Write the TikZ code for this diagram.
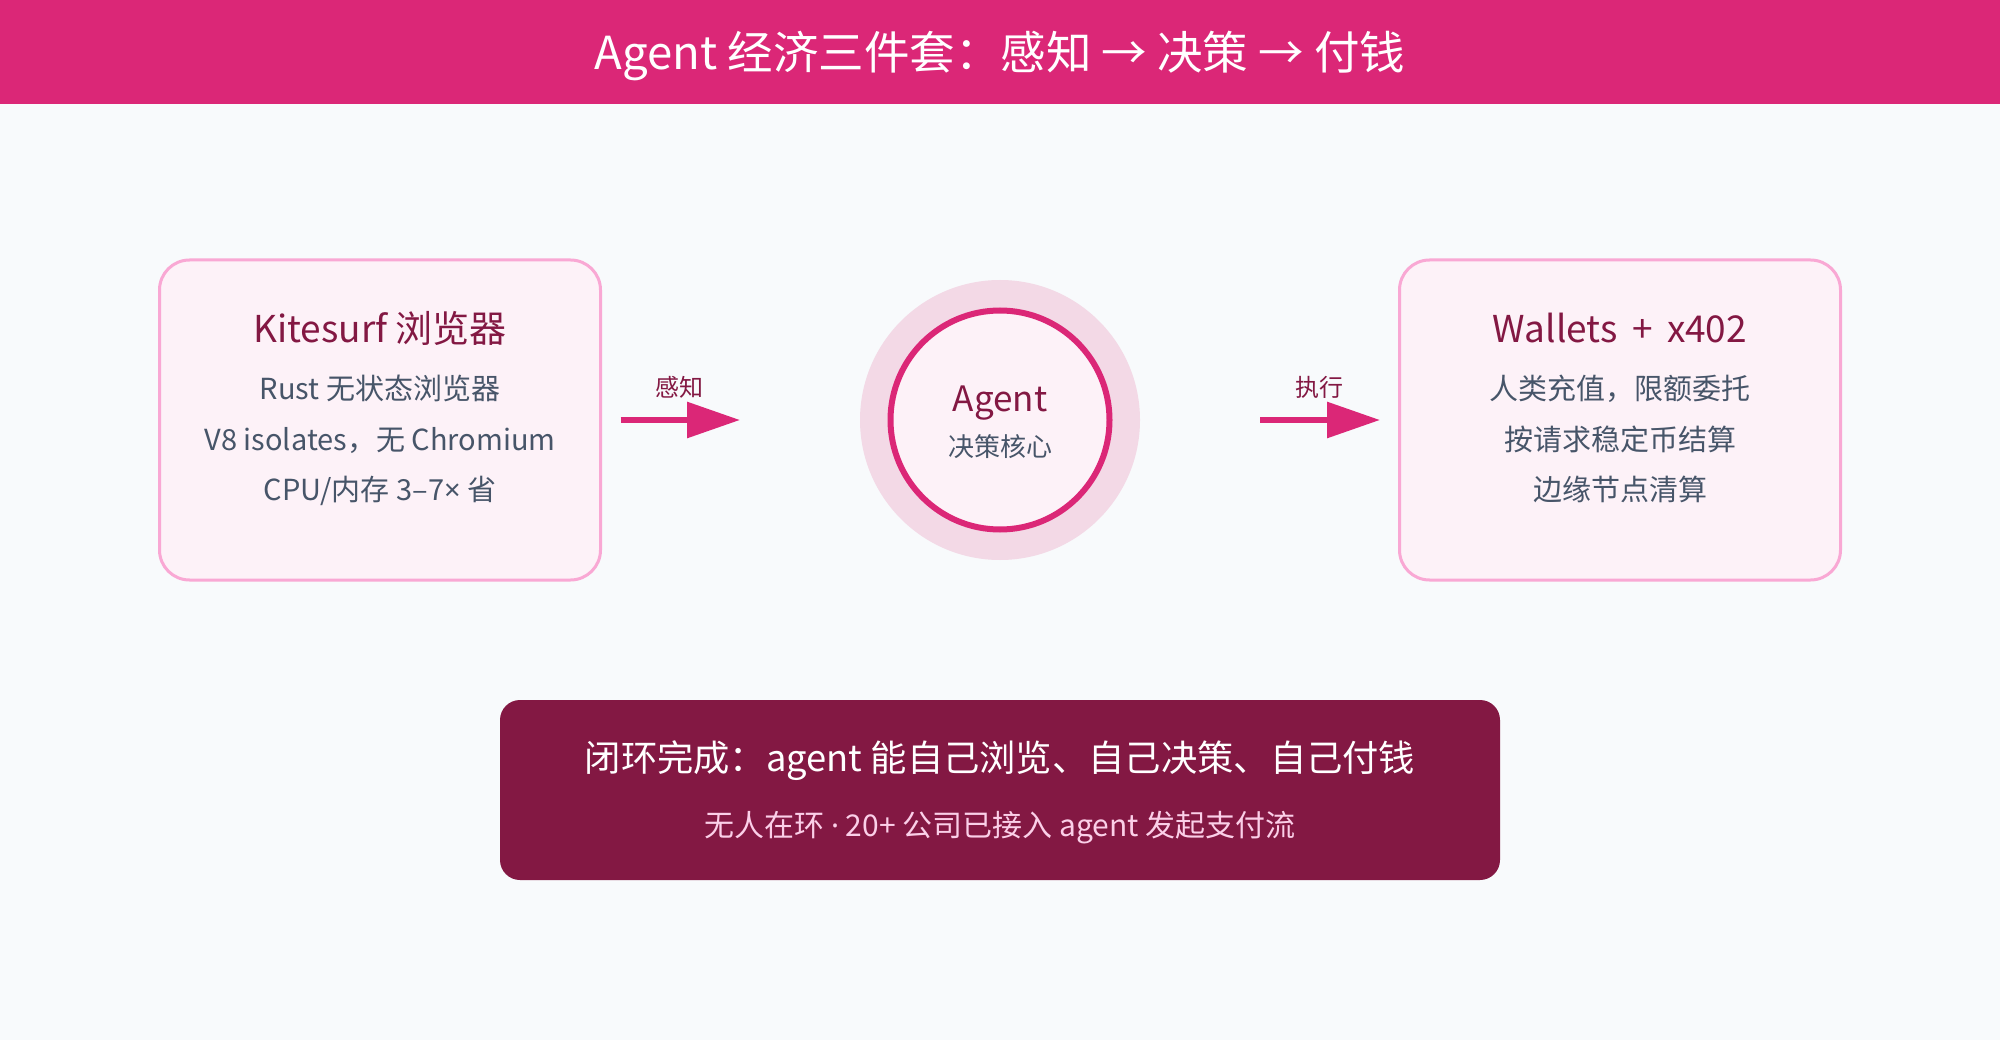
\documentclass[tikz,border=0pt]{standalone}
\usepackage{fontspec}
\setmainfont{Noto Sans CJK SC}
\newfontfamily\latfont{Noto Sans}
\usetikzlibrary{arrows.meta}
\definecolor{bg}{HTML}{F8FAFC}
\definecolor{hdr}{HTML}{DB2777}
\definecolor{deep}{HTML}{831843}
\definecolor{boxfill}{HTML}{FDF2F8}
\definecolor{boxline}{HTML}{F9A8D4}
\definecolor{bodytxt}{HTML}{475569}
\definecolor{halo}{HTML}{F3D9E6}
\definecolor{subpink}{HTML}{FBCFE8}
\begin{document}
\begin{tikzpicture}[x=1pt,y=-1pt,
  card/.style={draw=boxline, line width=3pt, fill=boxfill, rounded corners=30pt,
    minimum width=441pt, minimum height=320pt, outer sep=0pt, inner sep=0pt},
  cardtitle/.style={anchor=base, inner sep=0pt, text=deep, font=\fontsize{37}{44}\selectfont},
  cardtext/.style={anchor=base, inner sep=0pt, text=bodytxt, font=\fontsize{29}{34}\selectfont},
  flowlabel/.style={anchor=base, inner sep=0pt, text=deep, font=\fontsize{24}{28}\selectfont},
  flow/.style={draw=hdr, line width=6pt, -{Triangle[length=53pt,width=35pt]}},
]
\fill[bg] (0,0) rectangle (2000,1040);
\useasboundingbox (0,0) rectangle (2000,1040);
\fill[hdr] (0,0) rectangle (2000,104);
\node[text=white, inner sep=0pt, font=\fontsize{45.5}{52}\selectfont] (title) at (1000,56) {Agent 经济三件套：感知 → 决策 → 付钱};

% left card
\node[card] (kite) at (380,420) {};
\node[cardtitle] (kiteT) at (380,343) {Kitesurf 浏览器};
\node[cardtext] (kite1) at (380,400) {Rust 无状态浏览器};
\node[cardtext] (kite2) at (380,450) {V8 isolates，无 Chromium};
\node[cardtext] (kite3) at (380,500) {CPU/内存 3–7{\latfont ×} 省};

% right card
\node[card] (wal) at (1620,420) {};
\node[cardtitle] (walT) at (1620,343) {Wallets \,+\, x402};
\node[cardtext] (wal1) at (1620,400) {人类充值，限额委托};
\node[cardtext] (wal2) at (1620,450) {按请求稳定币结算};
\node[cardtext] (wal3) at (1620,500) {边缘节点清算};

% agent core
\node[circle, fill=halo, minimum size=280pt, inner sep=0pt, outer sep=0pt] (halo) at (1000,420) {};
\node[circle, draw=hdr, line width=6pt, fill=boxfill, minimum size=219pt, inner sep=0pt] (core) at (1000,420) {};
\node[anchor=base, inner sep=0pt, text=deep, font=\fontsize{35}{40}\selectfont] (coreT) at (1000,411) {Agent};
\node[anchor=base, inner sep=0pt, text=bodytxt, font=\fontsize{26}{30}\selectfont] (coreS) at (1000,456) {决策核心};

% arrows
\draw[flow, shorten <=20pt, shorten >=120pt] (kite.east) -- (halo.west);
\node[flowlabel] (l1) at (679,396) {感知};
\draw[flow, shorten <=120pt, shorten >=19.5pt] (halo.east) -- (wal.west);
\node[flowlabel] (l2) at (1319,396) {执行};

% bottom banner
\node[fill=deep, rounded corners=20pt, minimum width=1000pt, minimum height=180pt, inner sep=0pt] (loop) at (1000,790) {};
\node[anchor=base, inner sep=0pt, text=white, font=\fontsize{36.3}{42}\selectfont] (loopT) at (1000,771) {闭环完成：agent 能自己浏览、自己决策、自己付钱};
\node[anchor=base, inner sep=0pt, text=subpink, font=\fontsize{30}{34}\selectfont] (loopS) at (1000,836) {无人在环 {\latfont ·} 20+ 公司已接入 agent 发起支付流};
\end{tikzpicture}
\end{document}
